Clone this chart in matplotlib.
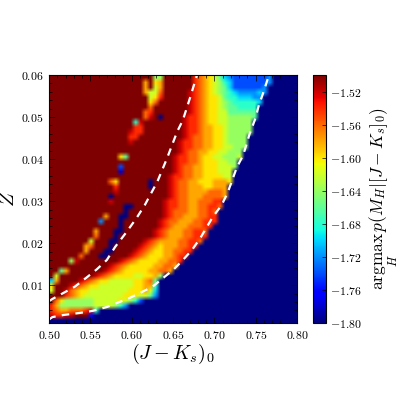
import re
import numpy as np
import matplotlib
matplotlib.use('Agg')
import matplotlib.pyplot as plt
from matplotlib.ticker import FormatStrFormatter, MultipleLocator

plt.rcParams['mathtext.fontset'] = 'cm'
plt.rcParams['font.family'] = 'serif'
plt.rcParams['font.serif'] = ['cmr10', 'DejaVu Serif']
plt.rcParams['axes.formatter.use_mathtext'] = True

# Colour level read for each character
level_chars = '0123456789abcdef'
level_values = [-1.80, -1.78, -1.76, -1.74, -1.72, -1.70, -1.68, -1.66,
                -1.64, -1.62, -1.60, -1.58, -1.56, -1.54, -1.52, -1.50]

# Cells, top row (Z=0.06) first; runs of level + count, rest of each row is level 0
grid_runs = [
 "f21 82 f6 d1 c1 b1 a1 91 71 51 41 37 41",
 "f19 b1 f1 a1 b1 f6 d1 c1 b1 a1 91 81 61 51 37 41",
 "f19 b1 f1 91 b1 f6 d1 c1 b1 a1 91 81 71 51 36 41",
 "f19 b1 92 c1 f5 e1 d1 c1 b1 a1 91 81 71 61 51 44 51 41",
 "f20 91 a1 d1 f5 e1 d1 c1 b1 a2 91 71 62 53 42",
 "f20 a1 c1 f6 e1 d1 c1 b1 a2 91 81 71 62 63 51",
 "f20 c1 f7 e1 d1 c1 b1 a2 91 81 72 64",
 "f19 c1 d1 f7 e1 d1 c1 b1 a2 92 72 74",
 "f19 c1 e1 f1 01 f4 e1 d2 c1 b1 a2 92 85 71",
 "f17 61 e1 f8 e1 d2 c1 b1 a2 92 85",
 "f17 d2 f8 e1 d2 c1 b2 a2 91 85",
 "f16 e1 d2 f8 e1 d2 c1 b2 a2 91 85",
 "f16 d2 f9 e1 d1 c2 b2 a2 91 84",
 "f16 e1 f9 e1 d2 c2 b2 a2 91 84",
 "f26 e1 d2 c2 b2 a2 92 83",
 "f26 e1 d1 c2 b2 a2 92 83",
 "f14 a1 71 f9 e1 d2 c2 b1 a2 92 83 91",
 "f25 e1 d2 c2 b1 a3 92 82",
 "f14 31 f10 e1 d1 c2 b2 a3 93 81",
 "f14 11 f10 e1 d1 c2 b2 a3 93",
 "f24 e1 d2 c2 b2 a4 92",
 "f12 c1 a1 f6 01 f3 e1 d1 c2 b2 a3 b3 a1",
 "f13 d1 f6 01 f3 e1 d1 c2 b3 a2 b3",
 "f13 e1 f10 e1 d1 c2 b4 c3 b1",
 "f12 01 f11 e1 d1 c2 b3 c4 b1",
 "f12 e1 f10 e1 d2 c2 b2 c3 d2",
 "f15 02 f6 e1 d2 c2 b2 c2 d2 c1",
 "f15 01 f7 e1 d1 c3 b2 c2 d1 c1",
 "f11 b1 f2 02 f7 e1 d1 c2 b3 c2 d2",
 "f10 41 f3 01 f7 e1 d1 c2 b3 c2 d3",
 "f14 01 f7 e1 d1 c1 b3 c3 d2",
 "f9 b1 f3 02 f6 e1 d1 c1 b3 c2 d2 c1",
 "f9 c1 f3 01 f7 e1 d1 c1 b3 c2 d3",
 "f8 91 f3 02 f5 e1 d1 c1 b4 c2 d2 c1",
 "f7 b1 c1 f3 01 f5 e1 d1 c1 b1 a1 b3 c2 d2",
 "f7 b1 f3 02 f4 e1 d1 c1 b1 a2 b2 c2 d2",
 "f6 c1 f3 02 f4 e1 d1 c1 b1 a3 b2 c1 d2",
 "f4 81 e1 f8 e1 d1 c1 b1 a4 b2 c2 d1",
 "f12 e1 d1 c1 b1 a5 b2 c2 b1",
 "f2 71 b1 f7 e1 d1 c1 b1 a5 b2 c2 b1",
 "f1 91 f7 e1 d1 c1 b1 a4 92 a2 b1 81",
 "51 b1 f4 e1 d1 c1 b1 a2 95 a2 b1 c1 71",
 "a1 f3 e1 d1 c1 b1 a2 97 a2 b2 61",
 "91 f2 e1 c1 b1 a2 98 a3 b1 91 51",
 "f3 d1 c1 b1 a1 98 a3 92 71 41",
 "f1 c1 a1 86 95 a1 91 81 61 31",
 "d1 b1 87 94 81 61 41",
 "d1 c1 b2 c3 d1 e1 61",
 "e1 d2 e2 f3 21",
 "01",
]

# White dashed curves
upper_x = [0.500, 0.504, 0.517, 0.531, 0.546, 0.558, 0.570, 0.580, 0.594, 0.606, 0.616,
           0.631, 0.643, 0.655, 0.662, 0.671, 0.679]
upper_z = [0.0062, 0.0067, 0.0081, 0.0096, 0.0119, 0.0138, 0.0160, 0.0191, 0.0227, 0.0260, 0.0291,
           0.0346, 0.0403, 0.0465, 0.0493, 0.0548, 0.0600]
lower_x = [0.500, 0.504, 0.517, 0.5375, 0.553, 0.570, 0.598, 0.6125, 0.625, 0.638, 0.650, 0.662,
           0.673, 0.683, 0.698, 0.709, 0.7165, 0.727, 0.735, 0.743, 0.749, 0.754, 0.759, 0.765]
lower_z = [0.0018, 0.0024, 0.0029, 0.0034, 0.0039, 0.0048, 0.0070, 0.0084, 0.0096, 0.0117, 0.0136, 0.0160,
           0.0184, 0.0212, 0.0262, 0.0291, 0.0322, 0.0379, 0.0410, 0.0462, 0.0493, 0.0529, 0.0557, 0.0593]

xticks = [0.50, 0.55, 0.60, 0.65, 0.70, 0.75, 0.80]
zticks = [0.01, 0.02, 0.03, 0.04, 0.05, 0.06]
cbar_ticks = [-1.80, -1.76, -1.72, -1.68, -1.64, -1.60, -1.56, -1.52]

ncols = 50
grid = []
for row in grid_runs:
    cells = []
    for ch, n in re.findall(r'([0-9a-f])(\d+)', row):
        cells += [level_values[level_chars.index(ch)]] * int(n)
    cells += [level_values[0]] * (ncols - len(cells))
    grid.append(cells[:ncols])
grid = np.array(grid)

W = 399.0
fig = plt.figure(figsize=(3.99, 3.99), dpi=100)
ax = fig.add_axes([49/W, 76/W, 248/W, 248/W])
im = ax.imshow(grid, extent=[0.50, 0.80, 0.001, 0.06], aspect='auto', cmap='jet',
               vmin=-1.80, vmax=-1.50, interpolation='bilinear', interpolation_stage='rgba',
               origin='upper')
ax.plot(upper_x, upper_z, color='white', lw=1.6, dashes=(3.4, 2.8))
ax.plot(lower_x, lower_z, color='white', lw=1.6, dashes=(3.4, 2.8))
ax.set_xlim(0.50, 0.80)
ax.set_ylim(0.001, 0.06)
ax.set_xticks(xticks)
ax.set_yticks(zticks)
ax.xaxis.set_minor_locator(MultipleLocator(0.01))
ax.yaxis.set_minor_locator(MultipleLocator(0.002))
ax.xaxis.set_major_formatter(FormatStrFormatter('$%.2f$'))
ax.yaxis.set_major_formatter(FormatStrFormatter('$%.2f$'))
ax.tick_params(which='both', direction='in', top=True, right=True, labelsize=8.5, color='black', pad=4)
ax.tick_params(which='major', length=4, width=0.5)
ax.tick_params(which='minor', length=2, width=0.5)
ax.set_xlabel(r'$(J-K_s)_0$', fontsize=14.5, labelpad=1)
ax.set_ylabel(r'$Z$', fontsize=14.5)
ax.yaxis.set_label_coords(-0.125, 0.5)

cax = fig.add_axes([313/W, 76/W, 13/W, 248/W])
cb = fig.colorbar(im, cax=cax, ticks=cbar_ticks)
cb.ax.yaxis.set_major_formatter(FormatStrFormatter('$%.2f$'))
cb.ax.tick_params(direction='in', labelsize=8.5, length=3, width=0.5, pad=3)
cb.set_label(r'$\underset{H}{\mathrm{argmax}}\,p(M_H|[J-K_s]_0)$', fontsize=12.5)
cb.ax.yaxis.set_label_coords(4.2, 0.5)

fig.savefig('out.png', dpi=100)
